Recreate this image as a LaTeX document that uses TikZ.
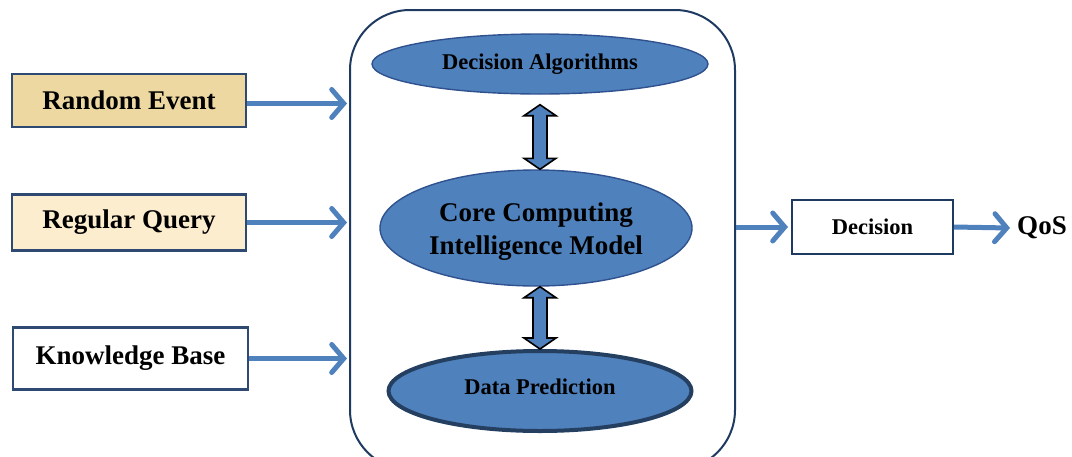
\documentclass[tikz,border=0pt]{standalone}
\usepackage{fontspec}
\setmainfont{Liberation Serif}
\usetikzlibrary{shapes.geometric,arrows.meta,calc}
\definecolor{navy}{HTML}{1F3A60}
\definecolor{boxedge}{HTML}{2E4A72}
\definecolor{ellblue}{HTML}{4F81BD}
\definecolor{elledge}{HTML}{2F528F}
\definecolor{dpedge}{HTML}{243F60}
\definecolor{arrblue}{HTML}{4F81BD}
\definecolor{paper}{HTML}{EDD8A2}
\definecolor{cream}{HTML}{FCEDCF}
\newcommand\bigtxt{\fontsize{27}{33}\selectfont\bfseries}
\newcommand\midtxt{\fontsize{22.5}{27}\selectfont\bfseries}
\newcommand\dblarrow[2]{\filldraw[dblar] let \p1=(#1), \p2=(#2) in
 (\x1,\y1) -- (\x1+16pt,\y1-11pt) -- (\x1+7pt,\y1-11pt) -- (\x1+7pt,\y2+11pt) -- (\x1+16pt,\y2+11pt) -- (\x1,\y2) -- (\x1-16pt,\y2+11pt) -- (\x1-7pt,\y2+11pt) -- (\x1-7pt,\y1-11pt) -- (\x1-16pt,\y1-11pt) -- cycle;}
\tikzset{
  inbox/.style={draw=boxedge, line width=2.2pt, rectangle, inner sep=0pt, font=\bigtxt},
  ell/.style={ellipse, fill=ellblue, draw=elledge, line width=1.4pt, inner sep=0pt},
  flow/.style={draw=arrblue, line width=5pt, -{Straight Barb[length=12pt,width=28pt,line cap=round]}},
  dblar/.style={fill=ellblue, draw=black, line width=1.6pt, line join=miter},
}
\begin{document}
\begin{tikzpicture}[x=1pt,y=-1pt]
\useasboundingbox (0,0) rectangle (1072,456);
% frame
\node[draw=navy, line width=2pt, rounded corners=60pt, minimum width=385pt, minimum height=460pt, inner sep=0pt] (frame) at (542.5,240) {};
% ellipses
\node[ell, minimum width=336pt, minimum height=60pt, font=\midtxt] (da) at (540,64) {Decision Algorithms};
\node[ell, minimum width=312pt, minimum height=116pt] (core) at (536,228) {};
\node[font=\bigtxt, align=center, inner sep=0pt] (coretxt) at ($(core.center)+(0,4)$) {Core Computing\\Intelligence Model};
\node[ell, draw=dpedge, line width=4pt, minimum width=303pt, minimum height=80pt] (dp) at (540,391) {};
\node[font=\midtxt, inner sep=0pt] (dptxt) at ($(dp.center)+(0,-4)$) {Data Prediction};
% double arrows
\coordinate (t1) at ($(da.south)+(0,10)$);
\coordinate (b1) at ($(core.north)+(0,0)$);
\coordinate (t2) at ($(core.south)+(4,0)$);
\coordinate (b2) at (dp.north);
\dblarrow{t1}{b1}
\dblarrow{t2}{b2}
% inputs
\node[inbox, fill=paper, minimum width=234pt, minimum height=53pt] (re) at (129,100.5) {Random Event};
\node[inbox, fill=cream, minimum width=234pt, minimum height=56pt] (rq) at (129,222.5) {Regular Query};
\node[inbox, fill=white, minimum width=235pt, minimum height=62pt] (kb) at (130.5,358.5) {Knowledge Base};
\draw[flow] ($(re.east)+(0,3)$) -- ($(frame.west |- re.east)+(-2,3)$);
\draw[flow] (rq.east) -- ($(frame.west |- rq.east)+(-2,0)$);
\draw[flow] (kb.east) -- ($(frame.west |- kb.east)+(-2,0)$);
% outputs
\node[draw=navy, line width=2pt, fill=white, minimum width=161pt, minimum height=54pt, inner sep=0pt, font=\midtxt] (dec) at (872.5,227) {Decision};
\node[font=\bigtxt, inner sep=0pt] (qos) at (1042,228) {QoS};
\draw[flow] (frame.east |- dec.west) -- ($(dec.west)+(-3,0)$);
\draw[flow] (dec.east) -- ($(qos.west)+(-7,0)$);
\end{tikzpicture}
\end{document}
